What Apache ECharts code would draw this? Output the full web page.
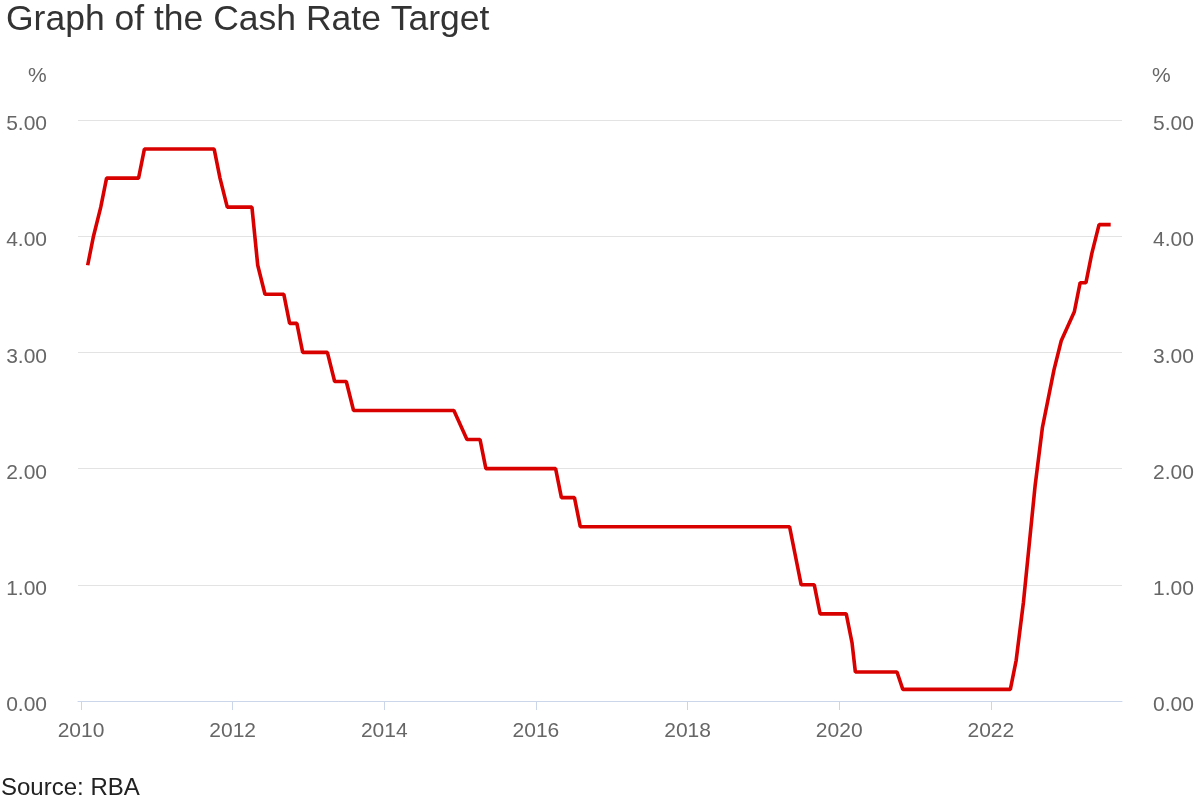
<!DOCTYPE html>
<html>
<head>
<meta charset="utf-8">
<script src="https://cdn.jsdelivr.net/npm/echarts@6/dist/echarts.min.js"></script>
<style>
html,body{margin:0;padding:0;background:#fff;}
#chart{width:1200px;height:800px;}
</style>
</head>
<body>
<div id="chart"></div>
<script>
// RBA board decision dates (bracketing each change) and cash rate target (%)
const dates = [
  '2010-02-02','2010-03-02','2010-04-06','2010-05-04','2010-10-05','2010-11-02',
  '2011-10-04','2011-11-01','2011-12-06',
  '2012-04-03','2012-05-01','2012-06-05','2012-09-04','2012-10-02','2012-11-06','2012-12-04',
  '2013-04-02','2013-05-07','2013-07-02','2013-08-06',
  '2014-12-02','2015-02-03','2015-04-07','2015-05-05',
  '2016-04-05','2016-05-03','2016-07-05','2016-08-02',
  '2019-05-07','2019-06-04','2019-07-02','2019-09-03','2019-10-01',
  '2020-02-04','2020-03-03','2020-03-19','2020-10-06','2020-11-03',
  '2022-04-05','2022-05-03','2022-06-07','2022-07-05','2022-08-02','2022-09-06',
  '2022-10-04','2022-11-01','2022-12-06',
  '2023-02-07','2023-03-07','2023-04-04','2023-05-02','2023-06-06','2023-07-04','2023-08-01'
];
const rates = [
  3.75,4.00,4.25,4.50,4.50,4.75,
  4.75,4.50,4.25,
  4.25,3.75,3.50,3.50,3.25,3.25,3.00,
  3.00,2.75,2.75,2.50,
  2.50,2.25,2.25,2.00,
  2.00,1.75,1.75,1.50,
  1.50,1.25,1.00,1.00,0.75,
  0.75,0.50,0.25,0.25,0.10,
  0.10,0.35,0.85,1.35,1.85,2.35,
  2.60,2.85,3.10,
  3.35,3.60,3.60,3.85,4.10,4.10,4.10
];
const xTickYears = [2010,2012,2014,2016,2018,2020,2022];
const yTicks = [0,1,2,3,4,5];

function decYear(s){
  const [y,m,d] = s.split('-').map(Number);
  const start = Date.UTC(y,0,1), end = Date.UTC(y+1,0,1);
  return y + (Date.UTC(y,m-1,d) - start) / (end - start);
}
const seriesData = dates.map((d,i)=>[decYear(d), rates[i]]);

const FONT = '"Liberation Sans", Arial, sans-serif';
const chart = echarts.init(document.getElementById('chart'));
const yAxisCommon = {
  type:'value', min:0, max:5, interval:1,
  axisLine:{show:false}, axisTick:{show:false},
  splitLine:{show:true, lineStyle:{color:'#e3e3e3', width:1}},
  axisLabel:{color:'#666666', fontSize:21, fontFamily:FONT, margin:31,
    verticalAlign:'top', lineHeight:9, formatter:v=>v.toFixed(2)}
};
chart.setOption({
  animation:false,
  backgroundColor:'#ffffff',
  title:{
    text:'Graph of the Cash Rate Target',
    left:1, top:-3,
    textStyle:{color:'#333333', fontSize:35.5, fontWeight:'normal', fontFamily:FONT}
  },
  graphic:[
    {type:'text', left:28, top:66, style:{text:'%', fill:'#666666', font:'21px '+FONT}},
    {type:'text', left:1152, top:66, style:{text:'%', fill:'#666666', font:'21px '+FONT}},
    {type:'text', left:1, top:776, style:{text:'Source: RBA', fill:'#222222', font:'24px '+FONT}}
  ],
  grid:{left:78, right:78, top:120, bottom:99, containLabel:false},
  xAxis:{
    type:'value', min:2009.96, max:2023.73,
    axisLine:{show:true, lineStyle:{color:'#ccd6eb', width:1}},
    axisTick:{show:true, length:9, lineStyle:{color:'#ccd6eb'}, customValues:xTickYears},
    splitLine:{show:false},
    axisLabel:{color:'#666666', fontSize:21, fontFamily:FONT, margin:20,
      customValues:xTickYears, formatter:v=>String(Math.round(v))}
  },
  yAxis:[
    Object.assign({}, yAxisCommon, {position:'left'}),
    Object.assign({}, yAxisCommon, {position:'right', splitLine:{show:false}})
  ],
  series:[{
    type:'line',
    data:seriesData,
    showSymbol:false,
    lineStyle:{color:'#d90000', width:3.6},
    itemStyle:{color:'#d90000'}
  }]
});
</script>
</body>
</html>
